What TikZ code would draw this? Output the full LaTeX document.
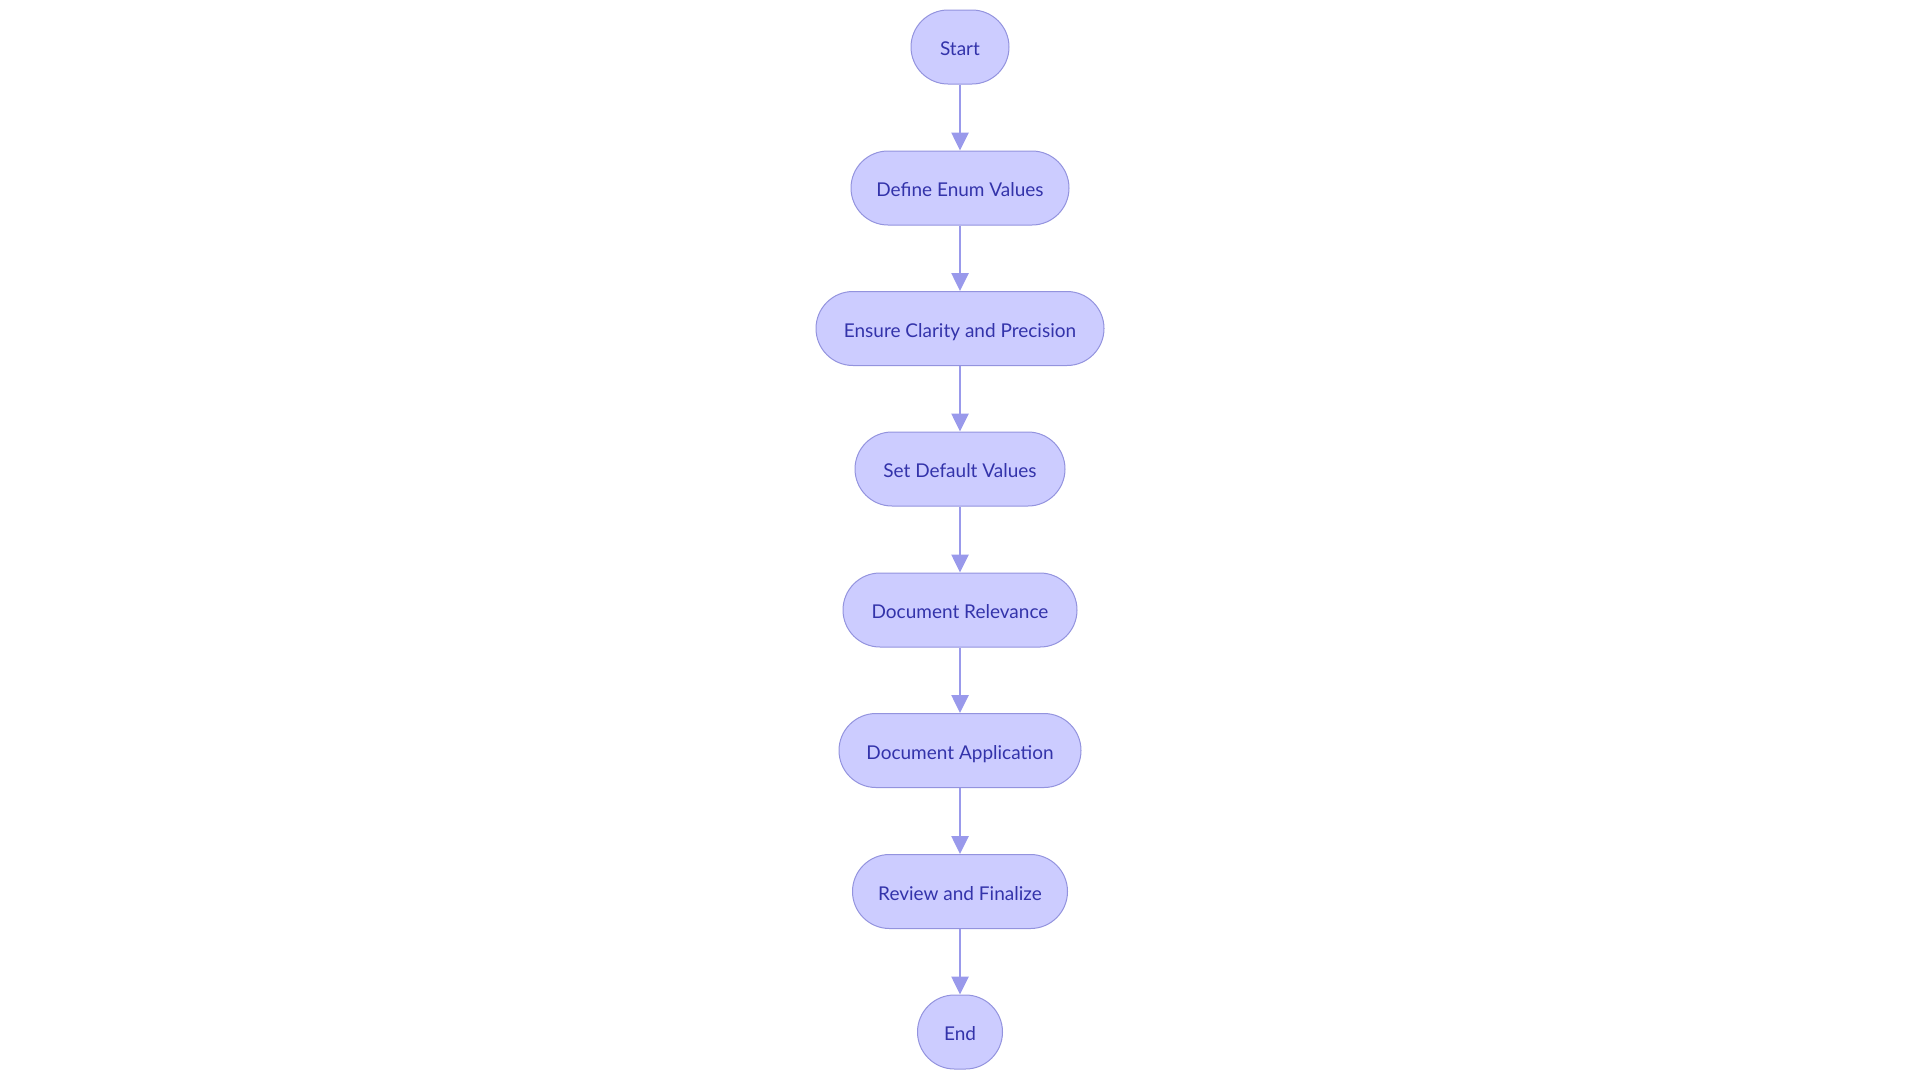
\documentclass[tikz,border=0pt]{standalone}
\usepackage{fontspec}
\setmainfont{Lato}
\usetikzlibrary{arrows.meta}
\definecolor{nodefill}{RGB}{204,204,255}
\definecolor{nodedraw}{RGB}{147,147,222}
\definecolor{edgecol}{RGB}{153,153,235}
\definecolor{textcol}{RGB}{51,51,170}
\tikzset{
  flowbox/.style={draw=nodedraw, fill=nodefill, line width=1pt, rounded corners=37pt,
    minimum height=74pt, inner sep=0pt, text height=17.5pt, text depth=0pt,
    text=textcol, font=\fontsize{19}{23}\selectfont},
  flowarrow/.style={draw=edgecol, line width=2.6pt, -{Triangle[length=18pt,width=17pt]}}
}
\begin{document}
\begin{tikzpicture}[x=1pt,y=-1pt]
\useasboundingbox (0,0) rectangle (1920,1080);
\node[flowbox, minimum width=98pt] (n1) at (960,47) {Start};
\node[flowbox, minimum width=218pt] (n2) at (960,188) {Define Enum Values};
\node[flowbox, minimum width=288pt] (n3) at (960,328.5) {Ensure Clarity and Precision};
\node[flowbox, minimum width=210pt] (n4) at (960,469) {Set Default Values};
\node[flowbox, minimum width=234pt] (n5) at (960,610) {Document Relevance};
\node[flowbox, minimum width=242pt] (n6) at (960,750.5) {Document Application};
\node[flowbox, minimum width=215pt] (n7) at (960,891.5) {Review and Finalize};
\node[flowbox, minimum width=85pt] (n8) at (960,1032) {End};
\foreach \a/\b in {n1/n2,n2/n3,n3/n4,n4/n5,n5/n6,n6/n7,n7/n8}
  \draw[flowarrow] (\a.south) -- (\b.north);
\end{tikzpicture}
\end{document}
